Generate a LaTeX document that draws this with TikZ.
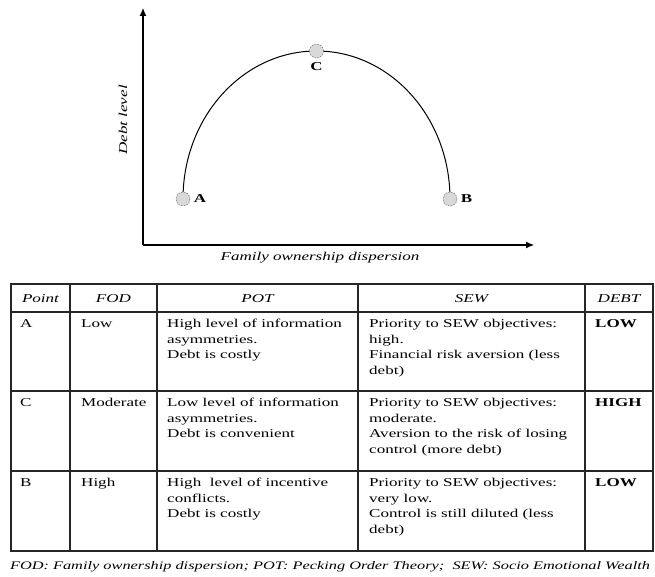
\documentclass[tikz,border=0pt]{standalone}
\usepackage{fontspec}
\setmainfont[FakeStretch=1.42]{Liberation Serif}
\usetikzlibrary{positioning}
\usetikzlibrary{arrows.meta}
\newcommand{\tblfont}{\fontsize{12}{15.5}\selectfont}
\newcommand{\notefont}{\fontsize{11.5}{14}\selectfont}

\begin{document}
\begin{tikzpicture}[>={Latex[length=8pt,width=7pt]},x=1pt,y=1pt,font=\tblfont,
	cell/.style={anchor=north west,inner sep=0pt,align=left},
	hdr/.style={anchor=base,inner sep=0pt,font=\tblfont\itshape},
	ptmark/.style={circle,draw=black!65,dash pattern=on 1.6pt off 1.2pt,fill=black!15,minimum size=14pt,inner sep=0pt},
	ptlbl/.style={inner sep=0pt,font=\tblfont\bfseries},
	grid/.style={line width=1.2pt,draw=black!85}]
	\useasboundingbox (0,0) rectangle (655,577);

	% axes
	\coordinate (orig) at (143,332);
	\coordinate (ytop) at (143,569);
	\coordinate (xend) at (534,332);
	\draw[->,line width=1.1pt] (orig) -- (ytop);
	\draw[->,line width=1.1pt] (orig) -- (xend);
	\node [font=\tblfont\itshape,rotate=90] at (123,457) (ylbl) {Debt level};
	\node [font=\tblfont\itshape] at (320,319) (xlbl) {Family ownership dispersion};

	% curve through the three points
	\coordinate (a) at (183,378);
	\coordinate (c) at (316.5,526);
	\coordinate (b) at (450,378);
	\draw[line width=1pt] (a) arc[start angle=180,end angle=0,x radius=133.5,y radius=148];
	\node [ptmark] at (a) (ptA) {};
	\node [ptmark] at (c) (ptC) {};
	\node [ptmark] at (b) (ptB) {};
	\node [ptlbl,right=3.5pt of ptA] (lblA) {A};
	\node [ptlbl,below=4pt of ptC] (lblC) {C};
	\node [ptlbl,right=3.5pt of ptB] (lblB) {B};

	% table
	\draw[grid] (11,26) rectangle (653,293);
	\draw[grid] (11,265) -- (653,265);
	\draw[grid] (11,186) -- (653,186);
	\draw[grid] (11,106) -- (653,106);
	\foreach \cx in {70,157,358,585}
		\draw[grid] (\cx,26) -- (\cx,293);

	\node [hdr] at (40.5,274) (hPoint) {Point};
	\node [hdr] at (113.5,274) (hFOD) {FOD};
	\node [hdr] at (257.5,274) (hPOT) {POT};
	\node [hdr] at (471.5,274) (hSEW) {SEW};
	\node [hdr] at (619,274) (hDEBT) {DEBT};

	% row A
	\node [cell] at (20,258) (pA) {A};
	\node [cell] at (81,258) (fodA) {Low};
	\node [cell] at (167,258) (potA) {High level of information\\asymmetries.\\Debt is costly};
	\node [cell] at (369,258) (sewA) {Priority to SEW objectives:\\high.\\Financial risk aversion (less\\debt)};
	\node [cell,font=\tblfont\bfseries] at (595,258) (debtA) {LOW};

	% row C
	\node [cell] at (20,179) (pC) {C};
	\node [cell] at (81,179) (fodC) {Moderate};
	\node [cell] at (167,179) (potC) {Low level of information\\asymmetries.\\Debt is convenient};
	\node [cell] at (369,179) (sewC) {Priority to SEW objectives:\\moderate.\\Aversion to the risk of losing\\control (more debt)};
	\node [cell,font=\tblfont\bfseries] at (595,179) (debtC) {HIGH};

	% row B
	\node [cell] at (20,99) (pB) {B};
	\node [cell] at (81,99) (fodB) {High};
	\node [cell] at (167,99) (potB) {High~ level of incentive\\conflicts.\\Debt is costly};
	\node [cell] at (369,99) (sewB) {Priority to SEW objectives:\\very low.\\Control is still diluted (less\\debt)};
	\node [cell,font=\tblfont\bfseries] at (595,99) (debtB) {LOW};

	\node [anchor=base,inner sep=0pt,font=\notefont\itshape] at (330,7) (note) {FOD: Family ownership dispersion; POT: Pecking Order Theory;~ SEW: Socio Emotional Wealth};
\end{tikzpicture}
\end{document}
